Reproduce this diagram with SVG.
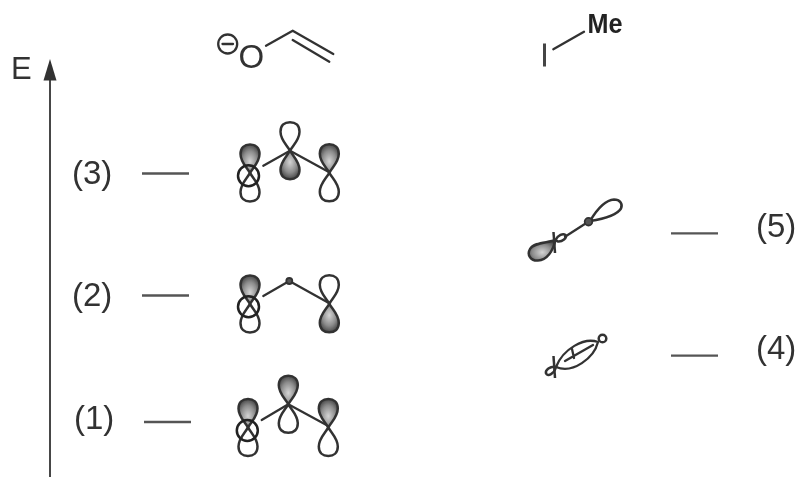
<svg xmlns="http://www.w3.org/2000/svg" width="798" height="477" viewBox="0 0 798 477">
<style>
g{filter:url(#soft)}
text{font-family:"Liberation Sans",Arial,sans-serif;fill:#333}
.lb{font-size:33px}
.ln{fill:none;stroke:#333;stroke-width:2.300;stroke-linecap:round;stroke-linejoin:round}
.lv{fill:none;stroke:#555;stroke-width:2.300}
.e{fill:#fff;stroke:#333;stroke-width:2.500}
.s{fill:url(#sh);stroke:#333;stroke-width:2.500}
.o{fill:none;stroke:#222;stroke-width:2.500}
.d{fill:#555;stroke:#333;stroke-width:1.800}
</style>
<defs>
<filter id="soft" filterUnits="userSpaceOnUse" x="0" y="0" width="798" height="477"><feGaussianBlur stdDeviation="0.450"/></filter>
<radialGradient id="sh" cx="50%" cy="60%" r="62%"><stop offset="0" stop-color="#d4d4d4"/><stop offset="0.6" stop-color="#8c8c8c"/><stop offset="1" stop-color="#444"/></radialGradient>
<path id="lobe" d="M0 0C-3.500-6-9.500-11-9.500-19C-9.500-25.500-5.500-28.500 0-28.500C5.500-28.500 9.500-25.500 9.500-19C9.500-11 3.500-6 0 0Z"/>
</defs>

<g id="connectors">
<line x1="50" y1="477" x2="50" y2="62" fill="none" stroke="#333" stroke-width="1.800"/>
<path d="M50 59L56.500 80.500L43.500 80.500Z" fill="#333"/>
<line class="lv" x1="142" y1="173.500" x2="189" y2="173.500"/>
<line class="lv" x1="142" y1="295.500" x2="189" y2="295.500"/>
<line class="lv" x1="144" y1="422" x2="191" y2="422"/>
<line class="lv" x1="671" y1="233.300" x2="718" y2="233.300"/>
<line class="lv" x1="671" y1="355.700" x2="718" y2="355.700"/>
</g>

<g id="energy-label"><text x="11" y="79" style="font-size:31px">E</text></g>

<g id="enolate">
<circle cx="227.700" cy="44" r="9.500" class="ln"/>
<line x1="222.500" y1="44" x2="233" y2="44" class="ln"/>
<text x="238.500" y="68" style="font-size:33px">O</text>
<path class="ln" d="M266 45.700L292.700 30.700L333.300 54"/>
<line class="ln" x1="292.700" y1="40" x2="329.300" y2="61.700"/>
</g>

<g id="methyl-iodide">
<line x1="544.500" y1="43.500" x2="544.500" y2="66.500" stroke="#444" stroke-width="3"/>
<line class="ln" x1="553.300" y1="49.300" x2="584" y2="31.700"/>
<text x="587.500" y="33" textLength="35" lengthAdjust="spacingAndGlyphs" style="font-size:27px;font-weight:bold;fill:#222">Me</text>
</g>

<g id="level-3"><text class="lb" x="72" y="183.500">(3)</text></g>
<g id="orbital-3">
<use href="#lobe" transform="translate(250 173)" class="s"/>
<use href="#lobe" transform="translate(250 173) rotate(180)" class="e"/>
<circle cx="248.500" cy="175.700" r="10.500" class="o"/>
<path class="ln" d="M263.300 165.700L290 150.700L329.300 172.300"/>
<use href="#lobe" transform="translate(290 150.700)" class="e"/>
<use href="#lobe" transform="translate(290 150.700) rotate(180)" class="s"/>
<use href="#lobe" transform="translate(329.300 172.800)" class="s"/>
<use href="#lobe" transform="translate(329.300 172.800) rotate(180)" class="e"/>
</g>

<g id="level-2"><text class="lb" x="72" y="305.500">(2)</text></g>
<g id="orbital-2">
<use href="#lobe" transform="translate(250 304)" class="s"/>
<use href="#lobe" transform="translate(250 304) rotate(180)" class="e"/>
<circle cx="248.500" cy="306.700" r="10.500" class="o"/>
<path class="ln" d="M263.300 296L289.300 281L329.300 303.300"/>
<circle cx="289.300" cy="281" r="3" class="d"/>
<use href="#lobe" transform="translate(329.300 303.800)" class="e"/>
<use href="#lobe" transform="translate(329.300 303.800) rotate(180)" class="s"/>
</g>

<g id="level-1"><text class="lb" x="74" y="429">(1)</text></g>
<g id="orbital-1">
<use href="#lobe" transform="translate(248 427.500)" class="s"/>
<use href="#lobe" transform="translate(248 427.500) rotate(180)" class="e"/>
<circle cx="247.300" cy="430.500" r="10.500" class="o"/>
<path class="ln" d="M261.700 420L288.300 404.300L328.300 426"/>
<use href="#lobe" transform="translate(288.300 404.300)" class="s"/>
<use href="#lobe" transform="translate(288.300 404.300) rotate(180)" class="e"/>
<use href="#lobe" transform="translate(328.300 427.500)" class="s"/>
<use href="#lobe" transform="translate(328.300 427.500) rotate(180)" class="e"/>
</g>

<g id="level-5"><text class="lb" x="756" y="237">(5)</text></g>
<g id="orbital-5">
<path class="s" d="M555.500 240C548 243 534 242 530 249C526.500 255 531 261 538 260.500C547 260 553 251 555.500 240Z"/>
<path class="e" d="M555.500 240C558 235 563 233 565.500 235C567.500 238 562 242 558 241.500Z"/>
<line x1="553.500" y1="232" x2="555" y2="253" stroke="#333" stroke-width="2.500"/>
<line class="ln" x1="565" y1="236.700" x2="588.300" y2="221.700"/>
<path class="e" d="M590 221C596 211 605 200 614 199.500C620 199.500 623 204 621 208.500C617 215 603 219 590 221Z"/>
<circle cx="588.500" cy="221.700" r="3.800" class="d"/>
</g>

<g id="level-4"><text class="lb" x="756" y="359">(4)</text></g>
<g id="orbital-4">
<path class="e" d="M556 367C550 366 545 370 546 373.500C548 377 554 374 556 367Z"/>
<path class="ln" d="M556 367C563 349 584 337 598 342C594 358 573 374 556 367Z"/>
<path class="ln" d="M565 361L593 345M572 349L574 358"/>
<circle cx="602.500" cy="338.500" r="3.800" class="e"/>
<line x1="553.500" y1="356" x2="555" y2="378" stroke="#333" stroke-width="2.500"/>
</g>
</svg>
